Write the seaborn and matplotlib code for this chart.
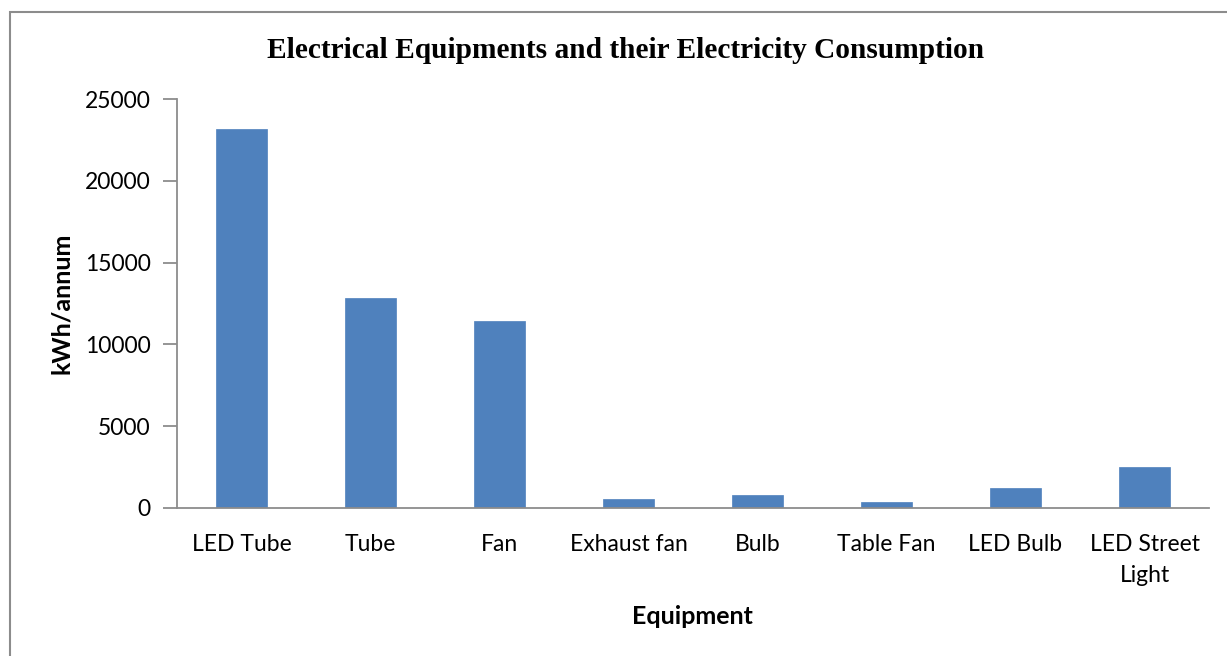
import matplotlib
matplotlib.use("Agg")
import matplotlib.pyplot as plt
from matplotlib.patches import Rectangle
import seaborn as sns
import pandas as pd

equipment = ["LED Tube", "Tube", "Fan", "Exhaust fan", "Bulb", "Table Fan", "LED Bulb", "LED Street\nLight"]
consumption = [23150, 12850, 11450, 530, 800, 370, 1220, 2500]
y_ticks = [0, 5000, 10000, 15000, 20000, 25000]

df = pd.DataFrame({"Equipment": equipment, "kWh/annum": consumption})

sns.set_theme(style="white")
plt.rcParams["font.family"] = ["Lato", "DejaVu Sans"]

W, H, DPI = 1227, 656, 100
fig = plt.figure(figsize=(W / DPI, H / DPI), dpi=DPI)
fig.patch.set_facecolor("white")

# chart frame (extends past the right and bottom edges)
fig.patches.append(Rectangle((10 / W, -0.05), 1.2, 1 - 12 / H + 0.05, transform=fig.transFigure,
                             fill=False, edgecolor="#8c8c8c", linewidth=1.5))

ax = fig.add_axes([177 / W, 1 - 508 / H, (1209 - 177) / W, (508 - 99) / H])
sns.barplot(data=df, x="Equipment", y="kWh/annum", color="#4f81bd", width=0.4,
            saturation=1, edgecolor="#4f81bd", linewidth=0.5, ax=ax)

ax.set_xlim(-0.5, len(equipment) - 0.5)
ax.set_ylim(0, 25000)
ax.set_yticks(y_ticks)
ax.set_yticklabels([str(v) for v in y_ticks])

for side in ["top", "right"]:
    ax.spines[side].set_visible(False)
for side in ["left", "bottom"]:
    ax.spines[side].set_color("#8c8c8c")
    ax.spines[side].set_linewidth(1.3)

ax.tick_params(axis="y", which="both", left=True, length=10, width=1.3, color="#8c8c8c",
               labelsize=16.5, pad=9, labelcolor="black")
ax.tick_params(axis="x", bottom=False, labelsize=16.5, pad=13, labelcolor="black")
for lbl in ax.get_xticklabels():
    lbl.set_linespacing(1.55)

ax.set_xlabel("")
ax.set_ylabel("")
fig.text(692 / W, 1 - 616 / H, "Equipment", ha="center", va="center",
         fontsize=18, fontweight="bold", color="black")
fig.text(62 / W, 1 - 303 / H, "kWh/annum", ha="center", va="center", rotation=90,
         fontsize=18, fontweight="bold", color="black")
fig.text(626 / W, 1 - 50 / H, "Electrical Equipments and their Electricity Consumption",
         ha="center", va="center", fontsize=21.2, fontweight="bold", color="black",
         family=["Liberation Serif", "DejaVu Serif"])

fig.savefig("out.png", dpi=DPI)
